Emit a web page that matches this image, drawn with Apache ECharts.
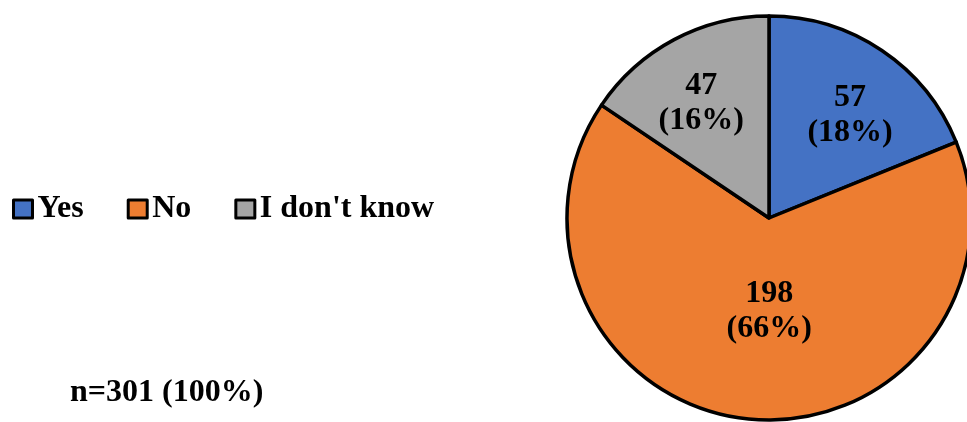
<!DOCTYPE html>
<html>
<head>
<meta charset="utf-8">
<script src="https://cdn.jsdelivr.net/npm/echarts@6/dist/echarts.min.js"></script>
<style>
html,body{margin:0;padding:0;background:#fff;}
#chart{width:967px;height:422px;}
</style>
</head>
<body>
<div id="chart"></div>
<script>
const categories = ['Yes', 'No', "I don't know"];
const counts = [57, 198, 47];
const percentLabels = ['18%', '66%', '16%'];
const totalLabel = 'n=301 (100%)';
const colors = ['#4472C4', '#ED7D31', '#A5A5A5'];

const labelShift = [[23, -17], [11, -10], [-19, -23]];

const chart = echarts.init(document.getElementById('chart'), null, {renderer: 'canvas'});
const fontFamily = '"Liberation Serif", "Times New Roman", serif';

chart.setOption({
  animation: false,
  backgroundColor: '#ffffff',
  title: {
    text: totalLabel,
    left: 70,
    top: 377,
    padding: 0,
    textStyle: {fontFamily, fontWeight: 'bold', fontSize: 32, color: '#000'}
  },
  legend: {
    orient: 'horizontal',
    left: 12,
    top: 193,
    padding: 0,
    itemWidth: 19,
    itemHeight: 18,
    itemGap: 43,
    icon: 'rect',
    data: categories,
    itemStyle: {borderColor: '#000', borderWidth: 3},
    textStyle: {fontFamily, fontWeight: 'bold', fontSize: 32, color: '#000', padding: [0, 0, 0, 0]}
  },
  series: [{
    type: 'pie',
    center: [769, 218],
    radius: [0, 202],
    startAngle: 90,
    clockwise: true,
    avoidLabelOverlap: false,
    itemStyle: {borderColor: '#000', borderWidth: 3.5},
    label: {
      show: true,
      position: 'inside',
      fontFamily,
      fontWeight: 'bold',
      fontSize: 32,
      lineHeight: 35,
      color: '#000',
      align: 'center',
      formatter: p => p.value + '\n(' + percentLabels[p.dataIndex] + ')'
    },
    labelLine: {show: false},
    emphasis: {disabled: true},
    labelLayout: p => ({dx: labelShift[p.dataIndex][0], dy: labelShift[p.dataIndex][1]}),
    data: categories.map((c, i) => ({name: c, value: counts[i], itemStyle: {color: colors[i]}}))
  }]
});
</script>
</body>
</html>
